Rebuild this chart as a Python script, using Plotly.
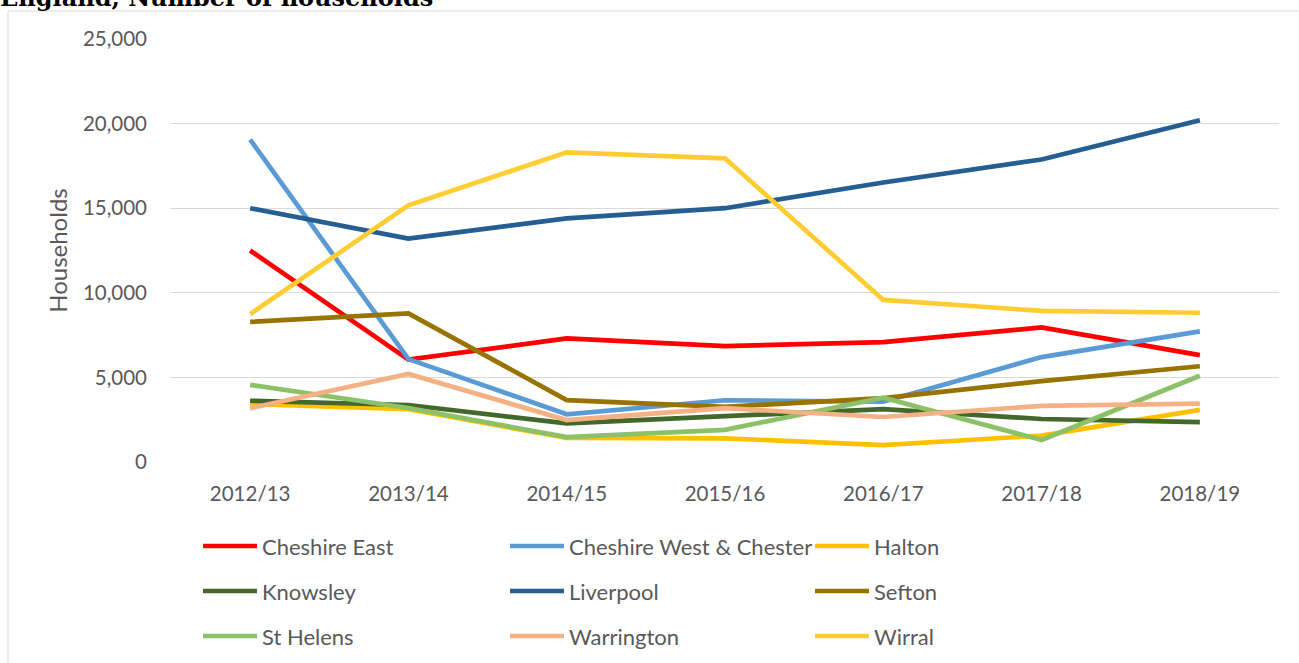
import plotly.graph_objects as go

# Financial years on the category axis
years = ["2012/13", "2013/14", "2014/15", "2015/16", "2016/17", "2017/18", "2018/19"]

# Households per local authority
cheshire_east = [12500, 6050, 7300, 6850, 7080, 7950, 6320]
cheshire_west = [19050, 6080, 2820, 3650, 3560, 6200, 7720]
halton = [3420, 3120, 1420, 1400, 1000, 1560, 3080]
knowsley = [3620, 3370, 2280, 2720, 3130, 2540, 2360]
liverpool = [15000, 13200, 14400, 15000, 16520, 17880, 20200]
sefton = [8280, 8780, 3660, 3260, 3780, 4780, 5660]
st_helens = [4560, 3190, 1470, 1900, 3800, 1300, 5100]
warrington = [3180, 5200, 2480, 3180, 2660, 3320, 3450]
wirral = [8740, 15170, 18300, 17950, 9580, 8930, 8820]

series = [
    ("Cheshire East", cheshire_east, "#FF0000"),
    ("Cheshire West & Chester", cheshire_west, "#5B9BD5"),
    ("Halton", halton, "#FFC000"),
    ("Knowsley", knowsley, "#43682B"),
    ("Liverpool", liverpool, "#255E91"),
    ("Sefton", sefton, "#997300"),
    ("St Helens", st_helens, "#8CC168"),
    ("Warrington", warrington, "#F4B183"),
    ("Wirral", wirral, "#FFCD33"),
]

W, H = 1299, 663
L, R, T, B = 171, 20, 39, 201
pw, ph = W - L - R, H - T - B
FONT = "Lato, 'Open Sans', sans-serif"
GREY = "#595959"

fig = go.Figure()
for name, vals, col in series:
    fig.add_trace(go.Scatter(
        x=years, y=vals, name=name, mode="lines",
        line=dict(color=col, width=4.7), showlegend=False,
    ))

def px_x(p):
    return (p - L) / pw

def px_y(p):
    return (H - B - p) / ph

shapes = []
annotations = []

# Legend laid out as three columns of three entries
col_x = [203, 510, 815]
row_y = [546, 591, 636]
for i, (name, vals, col) in enumerate(series):
    cx = col_x[i % 3]
    ry = row_y[i // 3]
    shapes.append(dict(
        type="line", xref="paper", yref="paper",
        x0=px_x(cx), x1=px_x(cx + 54), y0=px_y(ry), y1=px_y(ry),
        line=dict(color=col, width=4.7),
    ))
    annotations.append(dict(
        xref="paper", yref="paper", x=px_x(cx + 57), y=px_y(ry),
        xanchor="left", yanchor="middle", text=name, showarrow=False,
        font=dict(family=FONT, size=22, color=GREY),
    ))

# Chart frame
shapes.append(dict(
    type="rect", xref="paper", yref="paper", layer="below",
    x0=px_x(8), x1=px_x(1305), y0=px_y(11), y1=px_y(700),
    line=dict(color="#D9D9D9", width=1), fillcolor="rgba(0,0,0,0)",
))

# Heading sitting above the frame
annotations.append(dict(
    xref="paper", yref="paper", x=px_x(-2), y=px_y(14),
    xanchor="left", yanchor="bottom", showarrow=False,
    text="<b>England, Number of households</b>",
    font=dict(family="'DejaVu Serif', serif", size=24, color="#000000"),
))

fig.update_layout(
    width=W, height=H,
    margin=dict(l=L, r=R, t=T, b=B, autoexpand=False),
    paper_bgcolor="white", plot_bgcolor="white",
    font=dict(family=FONT, color=GREY, size=20.5),
    shapes=shapes, annotations=annotations,
    xaxis=dict(
        type="category", range=[-0.5, 6.5], showgrid=False, zeroline=False,
        showline=False, ticks="", tickfont=dict(size=20.5, color=GREY),
        ticklabelstandoff=17,
    ),
    yaxis=dict(
        range=[0, 25000], dtick=5000, tickformat=",", showgrid=True,
        gridcolor="#D9D9D9", gridwidth=1.3, zeroline=False, showline=False,
        ticks="", tickfont=dict(size=20.5, color=GREY), ticklabelstandoff=23,
        title=dict(text="Households", font=dict(size=24, color=GREY), standoff=8),
    ),
    showlegend=False,
)

fig.write_html("out.html")
